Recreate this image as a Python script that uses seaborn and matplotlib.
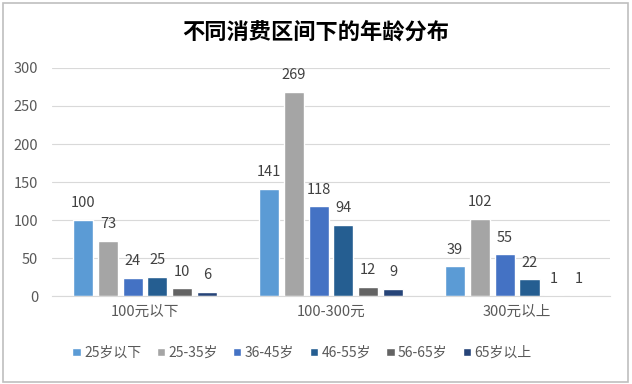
import pandas as pd
import seaborn as sns
import matplotlib.pyplot as plt
from matplotlib.patches import Rectangle

categories = ["100元以下", "100-300元", "300元以上"]
ages = ["25岁以下", "25-35岁", "36-45岁", "46-55岁", "56-65岁", "65岁以上"]
v_under25 = [100, 141, 39]
v_25_35 = [73, 269, 102]
v_36_45 = [24, 118, 55]
v_46_55 = [25, 94, 22]
v_56_65 = [10, 12, 1]
v_over65 = [6, 9, 1]
colors = ["#5B9BD5", "#A5A5A5", "#4472C4", "#255E91", "#636363", "#264478"]

series = [v_under25, v_25_35, v_36_45, v_46_55, v_56_65, v_over65]
rows = []
for age, vals in zip(ages, series):
    for cat, v in zip(categories, vals):
        rows.append({"区间": cat, "年龄": age, "人数": v})
df = pd.DataFrame(rows)

sns.set_style("white")
plt.rcParams['font.family'] = ['Noto Sans CJK SC', 'DejaVu Sans']

fig = plt.figure(figsize=(6.32, 3.84), dpi=100)
ax = fig.add_axes([0.0823, 0.229, 0.883, 0.594])

sns.barplot(data=df, x="区间", y="人数", hue="年龄", order=categories,
            hue_order=ages, palette=colors, width=0.8, gap=0.19,
            saturation=1, ax=ax, legend=True)

for cont in ax.containers:
    ax.bar_label(cont, padding=7, fontsize=10.5, color="#404040")

ax.set_ylim(0, 300)
ax.set_yticks(range(0, 301, 50))
ax.yaxis.grid(True, color="#D9D9D9", linewidth=0.8)
ax.set_axisbelow(True)
for s in ["top", "right", "left"]:
    ax.spines[s].set_visible(False)
ax.spines["bottom"].set_color("#D9D9D9")
ax.tick_params(axis="y", length=0, labelsize=10.5, colors="#595959", pad=10)
ax.tick_params(axis="x", length=0, labelsize=10.5, colors="#595959", pad=6)
ax.set_xlabel("")
ax.set_ylabel("")

ax.legend(loc="center", bbox_to_anchor=(0.478, 0.081), bbox_transform=fig.transFigure,
          ncol=6, frameon=False, fontsize=10, handlelength=0.6, handleheight=0.6,
          handletextpad=0.25, columnspacing=1.1, labelcolor="#595959")

fig.text(0.5, 0.915, "不同消费区间下的年龄分布", ha="center", va="center",
         fontsize=16, fontweight="bold", color="#000000")

fig.patches.append(Rectangle((0.004, 0.006), 0.99, 0.985, transform=fig.transFigure,
                             fill=False, edgecolor="#BFBFBF", linewidth=1.2))

fig.savefig("out.png", dpi=100)
